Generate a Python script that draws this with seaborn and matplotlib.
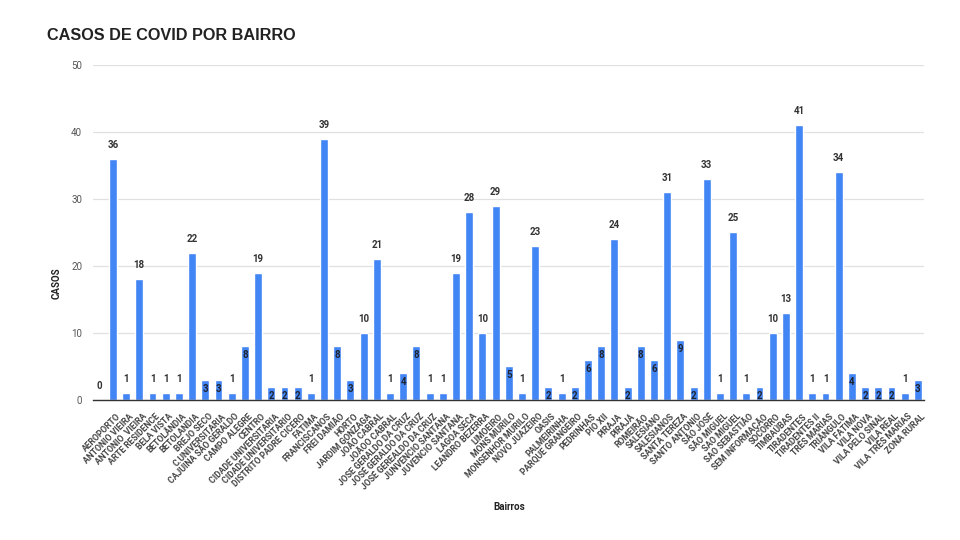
import matplotlib
matplotlib.use("Agg")
import matplotlib.pyplot as plt
import seaborn as sns
import pandas as pd

bairros = [
    "", "AEROPORTO", "ANTONIO VIEIRA", "ANTONIO  VIEIRA", "ARTE RESIDENCE", "BELA VISTA",
    "BETOLÂNDIA", "BETOLANDIA", "BREJO SECO", "C.UNIVERSITARIA", "CAJUINA SÃO GERALDO",
    "CAMPO ALEGRE", "CENTRO", "CIDADE UNIVERSITARIA", "CIDADE UNIVERSITARIO",
    "DISTRITO PADRE CICERO", "FATIMA", "FRANCISCANOS", "FREI DAMIÃO", "HORTO",
    "JARDIM GONZAGA", "JOÃO CABRAL", "JOÃOO CABRAL", "JOSE GERALDO DA CRUZ",
    "JOSÉ GERALDO DA CRUZ", "JOSÉ GEREALDO DA CRUZ", "JUNVENCIO SANTANA",
    "JUVENCIO SANTANA", "LAGOA SECA", "LEANDRO BEZERRA", "LIMOEIRO", "MONS MURILO",
    "MONSENHOR MURILO", "NOVO JUAZEIRO", "OASIS", "PALMEIRINHA", "PARQUE GRANGEIRO",
    "PEDRINHAS", "PIO XII", "PIRAJA", "PIRAJÁ", "ROMEIRÃO", "SALESIANO", "SALESIANOS",
    "SANTA TEREZA", "SANTO ANTONIO", "SÃO JOSÉ", "SÃO MIGUEL", "SAO MIGUEL",
    "SAO SEBASTIÃO", "SEM INFORMAÇÃO", "SOCORRO", "TIMBAÚBAS", "TIRADENTES",
    "TIRADENTES II", "TRÊS MARIAS", "TRIÂNGULO", "VILA FATIMA", "VILA NOVA",
    "VILA PELO SINAL", "VILA REAL", "VILA TRÊS MARIAS", "ZONA RURAL",
]
casos = [
    0, 36, 1, 18, 1, 1, 1, 22, 3, 3, 1,
    8, 19, 2, 2, 2, 1, 39, 8, 3, 10,
    21, 1, 4, 8, 1, 1, 19, 28, 10, 29,
    5, 1, 23, 2, 1, 2, 6, 8, 24, 2,
    8, 6, 31, 9, 2, 33, 1, 25, 1, 2,
    10, 13, 41, 1, 1, 34, 4, 2, 2, 2,
    1, 3,
]

df = pd.DataFrame({"Bairros": bairros, "CASOS": casos})

sns.set_theme(style="white")
plt.rcParams["font.family"] = ["Roboto", "DejaVu Sans"]

fig = plt.figure(figsize=(9.6, 5.4), dpi=100)
ax = fig.add_axes([0.097, 0.2593, 0.866, 0.6204])

BLUE = "#4285F4"
sns.barplot(data=df, x="Bairros", y="CASOS", color=BLUE, width=0.6,
            saturation=1, ax=ax, zorder=3)

ax.set_ylim(0, 50)
ax.set_xlim(-0.5, len(bairros) - 0.5)
ax.set_yticks([0, 10, 20, 30, 40, 50])
ax.yaxis.grid(True, color="#e0e0e0", linewidth=0.9, zorder=0)
ax.set_axisbelow(True)
for s in ["top", "right", "left"]:
    ax.spines[s].set_visible(False)
ax.spines["bottom"].set_color("#333333")
ax.spines["bottom"].set_linewidth(1.0)
ax.spines["bottom"].set_zorder(4)

ax.tick_params(axis="y", length=0, labelsize=7, labelcolor="#555555", pad=8)
ax.tick_params(axis="x", direction="inout", length=7, width=0.8, color="#333333",
               labelbottom=False)

# rotated category labels, anchored at each category's tick
for i, name in enumerate(bairros):
    ax.annotate(name, (i, 0), xytext=(3, -12), textcoords="offset pixels",
                rotation=45, rotation_mode="anchor", ha="right", va="top",
                fontsize=6.2, fontweight="bold", color="#444444",
                annotation_clip=False)

for i, v in enumerate(casos):
    if 2 <= v <= 9:
        ax.annotate(str(v), (i, v), xytext=(0, -9), textcoords="offset pixels",
                    ha="center", va="center", fontsize=7, fontweight="bold",
                    color="#1f2430", zorder=5)
    else:
        ax.annotate(str(v), (i, v), xytext=(0, 14), textcoords="offset pixels",
                    ha="center", va="center", fontsize=7, fontweight="bold",
                    color="#333333", zorder=5)

ax.set_xlabel("")
ax.set_ylabel("")
fig.text(509 / 960, 1 - 507 / 540, "Bairros", fontsize=7, fontweight="bold",
         color="#222222", ha="center", va="center")
fig.text(57 / 960, 1 - 283 / 540, "CASOS", fontsize=7, fontweight="bold",
         color="#222222", ha="center", va="center", rotation=90)

fig.text(47 / 960, 1 - 35 / 540, "CASOS DE COVID POR BAIRRO", fontsize=11.7,
         fontweight="bold", color="#222222", ha="left", va="center",
         family=["Liberation Sans", "DejaVu Sans"])

fig.savefig("out.png", dpi=100)
